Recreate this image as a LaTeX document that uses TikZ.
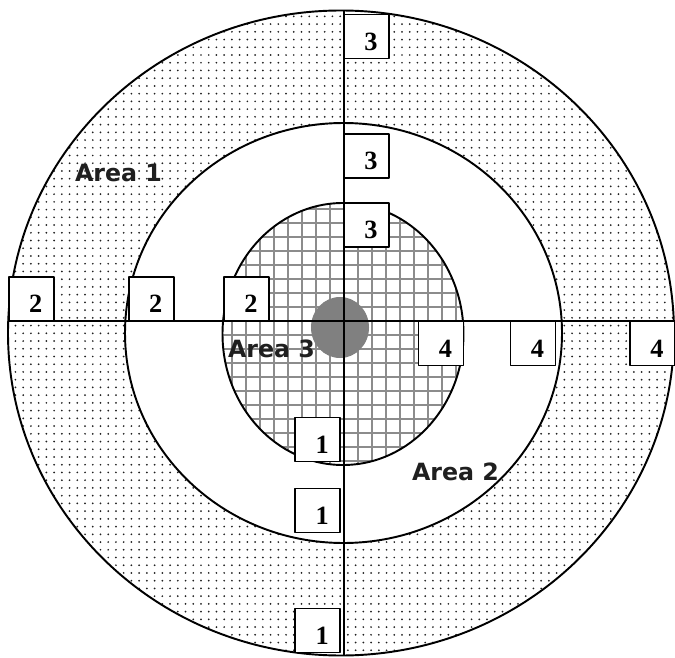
\documentclass[tikz,border=0pt]{standalone}
\usepackage{fontspec}
\setmainfont{Liberation Serif}
\newfontfamily\areafont{DejaVu Sans}
\usetikzlibrary{patterns.meta}
\definecolor{GridGray}{HTML}{8C8C8C}
\definecolor{CoreGray}{HTML}{808080}
\definecolor{DotInk}{HTML}{202020}

\begin{document}
\begin{tikzpicture}[
  x=0.02cm,
  y=-0.02cm,
  line join=round,
  rimline/.style={black,line width=1.1pt},
  gridline/.style={GridGray,line width=0.9pt},
  numbox/.style={draw=black,fill=white,line width=1.1pt,
    minimum width=0.9cm,minimum height=0.88cm,inner sep=0pt,
    text height=15.5pt,text depth=0pt,text width=12.5pt,align=right,
    font=\fontsize{15}{15}\selectfont\bfseries},
  arealabel/.style={font=\areafont\fontsize{13.5}{14}\selectfont\bfseries,
    text=black!88}
]
  \useasboundingbox (0,0) rectangle (675,658);

  % rings
  \path[fill=white] (341,333) ellipse [x radius=333,y radius=322.5];
  \path[pattern={Dots[radius=0.55pt,distance=4.4pt]},pattern color=DotInk]
    (341,333) ellipse [x radius=333,y radius=322.5];
  \path[fill=white] (343.5,333) ellipse [x radius=218.5,y radius=210];
  \begin{scope}
    \clip (343,334) ellipse [x radius=120.5,y radius=131];
    \fill[white] (210,190) rectangle (480,480);
    \foreach \gx in {218,232,...,470}
      \draw[gridline] (\gx,195) -- (\gx,475);
    \foreach \gy in {195,209,...,475}
      \draw[gridline] (215,\gy) -- (470,\gy);
  \end{scope}
  \draw[rimline] (341,333) ellipse [x radius=333,y radius=322.5];
  \draw[rimline] (343.5,333) ellipse [x radius=218.5,y radius=210];
  \draw[rimline] (343,334) ellipse [x radius=120.5,y radius=131];

  \fill[CoreGray] (340,327.5) ellipse [x radius=29,y radius=30.5];

  % cross
  \coordinate (north) at (344,10.5);
  \coordinate (south) at (344,656);
  \coordinate (west) at (8.6,321);
  \coordinate (east) at (675,321);
  \draw[rimline] (north) -- (south);
  \draw[rimline] (west) -- (east);

  % boxes
  \node[numbox] (threeouter) at (366.5,36.5) {3};
  \node[numbox] (threemid) at (366.5,156) {3};
  \node[numbox] (threeinner) at (366.5,225) {3};
  \node[numbox] (twoouter) at (31.3,299) {2};
  \node[numbox] (twomid) at (151.3,299) {2};
  \node[numbox] (twoinner) at (246.5,299) {2};
  \node[numbox] (fourinner) at (441,343.5) {4};
  \node[numbox] (fourmid) at (533,343.5) {4};
  \node[numbox] (fourouter) at (652.5,343.5) {4};
  \node[numbox] (oneinner) at (317.7,439.5) {1};
  \node[numbox] (onemid) at (317.7,510.5) {1};
  \node[numbox] (oneouter) at (317.7,630.5) {1};

  \node[arealabel] (areaone) at (118.5,173) {Area 1};
  \node[arealabel] (areathree) at (271.5,348.5) {Area 3};
  \node[arealabel] (areatwo) at (455.5,472) {Area 2};
\end{tikzpicture}
\end{document}
